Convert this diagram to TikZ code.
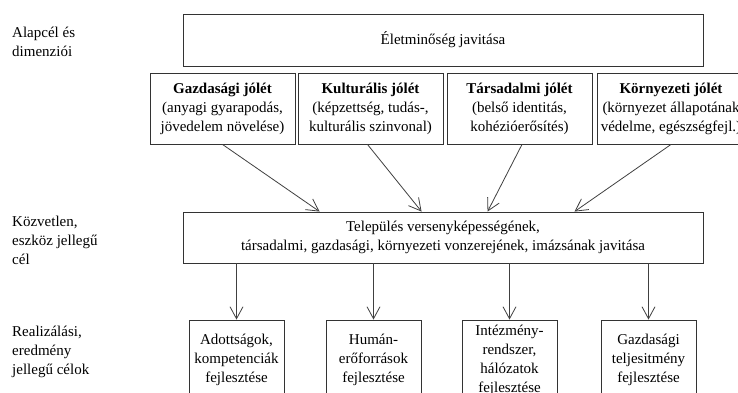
\documentclass[tikz,border=0pt]{standalone}
\usepackage{fontspec}
\setmainfont{Liberation Serif}
\usetikzlibrary{arrows.meta}
\begin{document}
\begin{tikzpicture}[x=1pt,y=-1pt,
  every node/.style={font=\fontsize{15}{19}\selectfont, inner sep=0pt},
  box/.style={draw=black!80, line width=0.9pt, align=center, fill=white},
  conn/.style={draw=black!75, line width=0.8pt, -{Straight Barb[length=12pt,width=13pt,line width=0.8pt]}},
  lbl/.style={anchor=base west, align=left}]
\useasboundingbox (0,0) rectangle (738,392);
\clip (0,0) rectangle (738,392);
\fill[white] (0,0) rectangle (738,392);
% left labels (base anchor = last line)
\node[lbl] (l1) at (12,56) {Alapcél és\\dimenziói};
\node[lbl] (l2) at (12,264) {Közvetlen,\\eszköz jellegű\\cél};
\node[lbl] (l3) at (12,374) {Realizálási,\\eredmény\\jellegű célok};
% top
\node[box, minimum width=520pt, minimum height=52pt] (top) at (443,40) {Életminőség javitása};
\node[box, minimum width=145pt, minimum height=71pt] (gaz) at (222.5,108.5) {\textbf{Gazdasági jólét}\\(anyagi gyarapodás,\\jövedelem növelése)};
\node[box, minimum width=145pt, minimum height=71pt] (kul) at (370.5,108.5) {\textbf{Kulturális jólét}\\(képzettség, tudás-,\\kulturális szinvonal)};
\node[box, minimum width=145pt, minimum height=71pt] (tar) at (519.5,108.5) {\textbf{Társadalmi jólét}\\(belső identitás,\\kohézióerősítés)};
\node[box, minimum width=148pt, minimum height=71pt] (kor) at (671,108.5) {\textbf{Környezeti jólét}\\(környezet állapotának\\védelme, egészségfejl.)};
% middle
\node[box, minimum width=520pt, minimum height=51pt] (mid) at (443,237.5) {Település versenyképességének,\\társadalmi, gazdasági, környezeti vonzerejének, imázsának javitása};
% bottom
\node[box, minimum width=95pt, minimum height=80pt] (b1) at (236.5,360) {Adottságok,\\kompetenciák\\fejlesztése};
\node[box, minimum width=95pt, minimum height=80pt] (b2) at (373.5,360) {Humán-\\erőforrások\\fejlesztése};
\node[box, minimum width=95pt, minimum height=80pt] (b3) at (509.5,360) {Intézmény-\\rendszer,\\hálózatok\\fejlesztése};
\node[box, minimum width=95pt, minimum height=80pt] (b4) at (648.5,360) {Gazdasági\\teljesitmény\\fejlesztése};
% connectors up
\draw[conn] (gaz.south) -- ([xshift=137pt]mid.north west);
\draw[conn] ([xshift=-3pt]kul.south) -- ([xshift=239pt]mid.north west);
\draw[conn] ([xshift=2.5pt]tar.south) -- ([xshift=305pt]mid.north west);
\draw[conn] (kor.south) -- ([xshift=392pt]mid.north west);
% connectors down
\draw[conn] (b1.north |- mid.south) -- (b1.north);
\draw[conn] (b2.north |- mid.south) -- (b2.north);
\draw[conn] (b3.north |- mid.south) -- (b3.north);
\draw[conn] (b4.north |- mid.south) -- (b4.north);
\end{tikzpicture}
\end{document}
